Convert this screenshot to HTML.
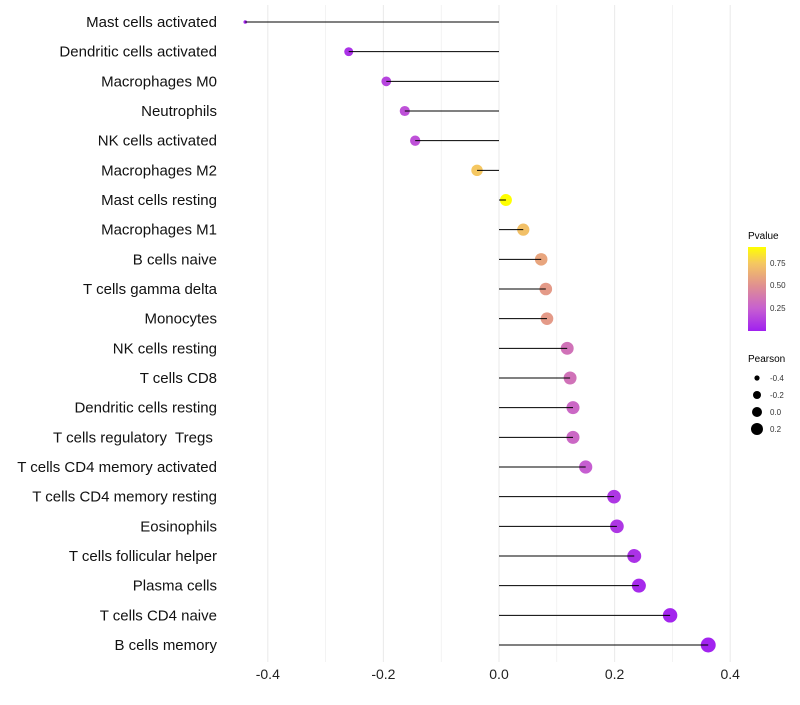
<!DOCTYPE html>
<html><head><meta charset="utf-8"><style>
body{margin:0;background:#fff;font-family:"Liberation Sans",sans-serif}
text{white-space:pre}
</style></head><body>
<svg id="chart" width="800" height="700" xmlns="http://www.w3.org/2000/svg">
<g id="grid"></g>
<g id="marks"></g>
<g id="yaxis"></g>
<g id="xaxis"></g>
<g id="legend">
<defs><linearGradient id="pg" x1="0" y1="1" x2="0" y2="0">
<stop offset="0" stop-color="#a020f0"/><stop offset="0.27" stop-color="#c760d0"/><stop offset="0.54" stop-color="#e09090"/><stop offset="0.81" stop-color="#f5c860"/><stop offset="1" stop-color="#ffff00"/></linearGradient></defs>
<text x="748" y="239" font-size="10">Pvalue</text>
<rect x="748" y="247" width="18" height="84" fill="url(#pg)"/>
<text x="770" y="266" font-size="8" fill="#333">0.75</text>
<text x="770" y="288" font-size="8" fill="#333">0.50</text>
<text x="770" y="311" font-size="8" fill="#333">0.25</text>
<text x="748" y="362" font-size="10">Pearson</text>
<circle cx="757" cy="378" r="2.6" fill="#000"/>
<circle cx="757" cy="395" r="4" fill="#000"/>
<circle cx="757" cy="412" r="5" fill="#000"/>
<circle cx="757" cy="429" r="6" fill="#000"/>
<text x="770" y="381" font-size="8" fill="#333">-0.4</text>
<text x="770" y="398" font-size="8" fill="#333">-0.2</text>
<text x="770" y="415" font-size="8" fill="#333">0.0</text>
<text x="770" y="432" font-size="8" fill="#333">0.2</text>
</g>
</svg>
<script>
const categories=["Mast cells activated","Dendritic cells activated","Macrophages M0","Neutrophils","NK cells activated","Macrophages M2","Mast cells resting","Macrophages M1","B cells naive","T cells gamma delta","Monocytes","NK cells resting","T cells CD8","Dendritic cells resting","T cells regulatory  Tregs ","T cells CD4 memory activated","T cells CD4 memory resting","Eosinophils","T cells follicular helper","Plasma cells","T cells CD4 naive","B cells memory"];
const pearson=[-0.439,-0.26,-0.195,-0.163,-0.145,-0.038,0.012,0.042,0.073,0.081,0.083,0.118,0.123,0.128,0.128,0.150,0.199,0.204,0.234,0.242,0.296,0.362];
const pvalue=[0.03,0.08,0.15,0.2,0.2,0.75,0.93,0.72,0.6,0.55,0.55,0.35,0.35,0.3,0.3,0.25,0.1,0.1,0.08,0.05,0.03,0.02];
const xTicks=[-0.4,-0.2,0.0,0.2,0.4];
const xTickLabels=["-0.4","-0.2","0.0","0.2","0.4"];
const NS="http://www.w3.org/2000/svg";
const x=v=>499+v*578;
const y=i=>22+i*(623/21);
function mk(t,a,p){const e=document.createElementNS(NS,t);for(const k in a)e.setAttribute(k,a[k]);p.appendChild(e);return e;}
const stops=[[0,[160,32,240]],[0.27,[199,96,208]],[0.54,[224,144,144]],[0.81,[245,200,96]],[1,[255,255,0]]];
function col(p){let t=(p-0.01)/0.92;t=Math.max(0,Math.min(1,t));for(let i=1;i<stops.length;i++){if(t<=stops[i][0]){const a=stops[i-1],b=stops[i],f=(t-a[0])/(b[0]-a[0]);return "rgb("+a[1].map((c,j)=>Math.round(c+(b[1][j]-c)*f)).join(",")+")";}}return "rgb(255,255,0)";}
const rad=v=>v<-0.4?1.8:Math.sqrt(Math.max(2.25,35+v*58));
const grid=document.getElementById('grid'),marks=document.getElementById('marks'),ya=document.getElementById('yaxis'),xa=document.getElementById('xaxis');
for(let v=-0.4;v<=0.45;v+=0.1){const g=mk('line',{x1:x(v),x2:x(v),y1:5,y2:662,stroke:'#ebebeb','stroke-width':Math.abs(Math.round(v*10))%2?0.6:1.1},grid);

}
xTicks.forEach((v,i)=>{const t=mk('text',{x:x(v),y:679,'font-size':14,'text-anchor':'middle',fill:'#222'},xa);t.textContent=xTickLabels[i];

});
categories.forEach((c,i)=>{
const t=mk('text',{x:217,y:y(i)+5,'font-size':15,'text-anchor':'end',fill:'#111'},ya);t.textContent=c;


const pt=mk('circle',{cx:x(pearson[i]),cy:y(i),r:rad(pearson[i]),fill:col(pvalue[i])},marks);


const l=mk('line',{x1:x(0),x2:x(pearson[i]),y1:y(i),y2:y(i),stroke:'#000','stroke-width':1},marks);


});
</script>
</body></html>
